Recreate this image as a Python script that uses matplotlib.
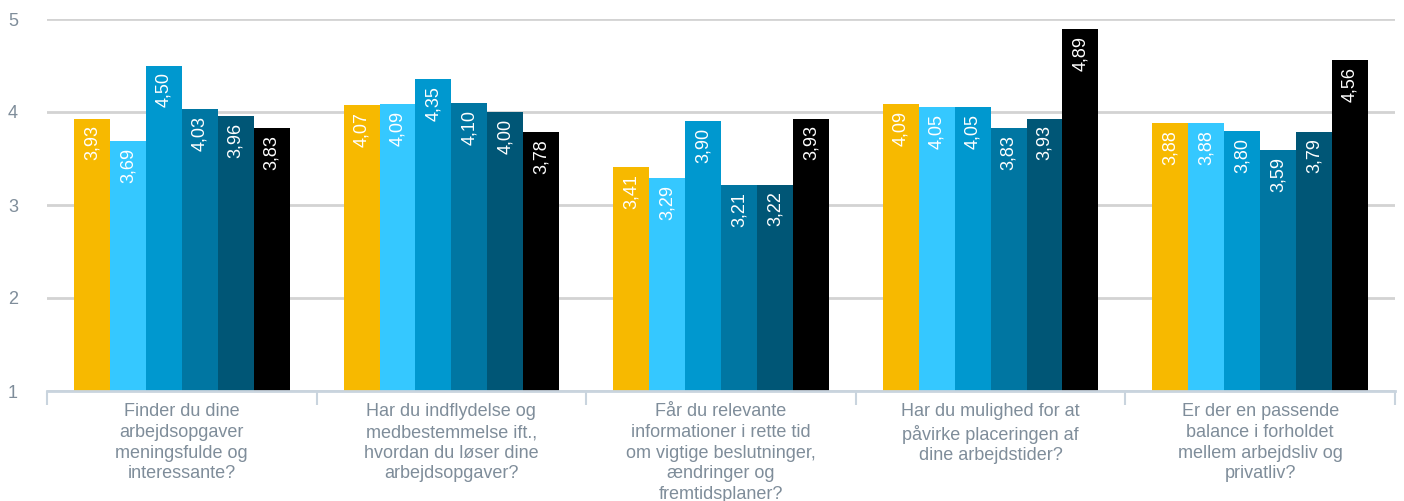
import numpy as np
import matplotlib
matplotlib.use("Agg")
import matplotlib.pyplot as plt

plt.rcParams['font.family'] = ['Liberation Sans', 'DejaVu Sans']

# spørgsmål (kategorier)
categories = [
    "Finder du dine\narbejdsopgaver\nmeningsfulde og\ninteressante?",
    "Har du indflydelse og\nmedbestemmelse ift.,\nhvordan du løser dine\narbejdsopgaver?",
    "Får du relevante\ninformationer i rette tid\nom vigtige beslutninger,\nændringer og\nfremtidsplaner?",
    "Har du mulighed for at\npåvirke placeringen af\ndine arbejdstider?",
    "Er der en passende\nbalance i forholdet\nmellem arbejdsliv og\nprivatliv?",
]

# seks serier, en værdi pr. spørgsmål
serie1 = [3.93, 4.07, 3.41, 4.09, 3.88]
serie2 = [3.69, 4.09, 3.29, 4.05, 3.88]
serie3 = [4.50, 4.35, 3.90, 4.05, 3.80]
serie4 = [4.03, 4.10, 3.21, 3.83, 3.59]
serie5 = [3.96, 4.00, 3.22, 3.93, 3.79]
serie6 = [3.83, 3.78, 3.93, 4.89, 4.56]

series = [serie1, serie2, serie3, serie4, serie5, serie6]
colors = ['#f7b900', '#35c8ff', '#0098cf', '#0076a2', '#005676', '#000000']
y_ticks = [1, 2, 3, 4, 5]

grey = '#7f8d9a'

fig = plt.figure(figsize=(14.04, 5.01), dpi=100)
ax = fig.add_axes([47/1404, 110/501, 1348/1404, 372/501])

n = len(series)
width = 0.8 / n
x = np.arange(len(categories))
for i, (vals, c) in enumerate(zip(series, colors)):
    pos = x - 0.4 + width * (i + 0.5)
    bars = ax.bar(pos, np.array(vals) - 1, width=width, bottom=1, color=c, zorder=3)
    for b, v in zip(bars, vals):
        ax.annotate(f"{v:.2f}".replace('.', ','),
                    (b.get_x() + b.get_width() / 2, v),
                    xytext=(0, -5), textcoords='offset points',
                    rotation=90, ha='center', va='top',
                    color='white', fontsize=13, zorder=4)

ax.set_xlim(-0.5, len(categories) - 0.5)
ax.set_ylim(1, 5)
ax.set_yticks(y_ticks)
ax.yaxis.grid(True, color='#d3d3d3', linewidth=2, zorder=0)
ax.tick_params(axis='y', length=0, pad=28, labelsize=13, labelcolor=grey)
for lab in ax.get_yticklabels():
    lab.set_horizontalalignment('left')

ax.set_xticks(x)
ax.set_xticklabels(categories, fontsize=13, color=grey, linespacing=1.27)
ax.tick_params(axis='x', which='major', length=0, pad=9)
ax.set_xticks(np.arange(len(categories) + 1) - 0.5, minor=True)
ax.tick_params(axis='x', which='minor', length=10, width=1.5, color='#c9d4de')

for s in ['top', 'right', 'left']:
    ax.spines[s].set_visible(False)
ax.spines['bottom'].set_color('#c9d4de')
ax.spines['bottom'].set_linewidth(2)
ax.spines['bottom'].set_zorder(5)

fig.savefig('out.png', dpi=100)
